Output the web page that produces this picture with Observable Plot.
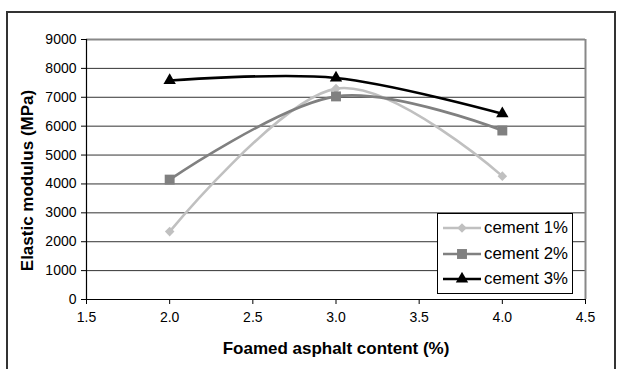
<!DOCTYPE html>
<html>
<head>
<meta charset="utf-8">
<script src="https://cdn.jsdelivr.net/npm/d3@7"></script>
<script src="https://cdn.jsdelivr.net/npm/@observablehq/plot@0.6"></script>
<style>
  html, body { margin: 0; padding: 0; background: #fff; }
  #wrap { position: relative; width: 623px; height: 369px; overflow: hidden; font-family: "Liberation Sans", Arial, sans-serif; }
  #border { position: absolute; left: 6px; top: 11px; width: 610px; height: 400px; border: 2px solid #333; box-sizing: border-box; }
  #chart { position: absolute; left: 0; top: 0; }
  #legend { position: absolute; left: 437px; top: 213px; width: 136px; height: 81px; border: 1px solid #000; background: #fff; box-sizing: border-box; }
  .item { position: absolute; left: 4px; height: 24px; display: flex; align-items: center; font-size: 16.8px; color: #000; white-space: nowrap; }
  .item svg { margin-right: 2px; }
</style>
</head>
<body>
<div id="wrap">
  <div id="border"></div>
  <div id="chart"></div>
  <div id="legend"></div>
</div>
<script>
const xValues = [2.0, 3.0, 4.0];
const seriesNames = ["cement 1%", "cement 2%", "cement 3%"];
const cement1 = [2350, 7300, 4270];
const cement2 = [4150, 7030, 5850];
const cement3 = [7580, 7670, 6430];
const seriesColors = ["#c0c0c0", "#808080", "#000000"];
const seriesSymbols = ["diamond2", "square", "triangle"];
const xTicks = [1.5, 2.0, 2.5, 3.0, 3.5, 4.0, 4.5];
const yTicks = [0, 1000, 2000, 3000, 4000, 5000, 6000, 7000, 8000, 9000];

const allSeries = [cement1, cement2, cement3];
const data = [];
allSeries.forEach((vals, i) => vals.forEach((v, j) => data.push({x: xValues[j], y: v, s: seriesNames[i]})));

const symR = {"diamond2": 4.3, "square": 5.6, "triangle": 4.6};

const marks = [
  Plot.ruleY(yTicks.filter(d => d > 0 && d < 9000), {stroke: "#333", strokeWidth: 1}),
  Plot.ruleY([9000], {stroke: "#888", strokeWidth: 2}),
  Plot.ruleX([4.5], {stroke: "#888", strokeWidth: 2}),
  Plot.axisX({ticks: xTicks, tickFormat: d3.format(".1f"), tickSize: 5, tickPadding: 8, fontSize: 14, label: null, stroke: "#000"}),
  Plot.axisY({ticks: yTicks, tickFormat: d => String(d), tickSize: 5, tickPadding: 5, fontSize: 14, label: null, stroke: "#000"}),
  Plot.ruleX([1.5], {stroke: "#000", strokeWidth: 1.2}),
  Plot.ruleY([0], {stroke: "#000", strokeWidth: 1.2}),
];
seriesNames.forEach((name, i) => {
  const d = data.filter(r => r.s === name);
  marks.push(Plot.line(d, {x: "x", y: "y", stroke: seriesColors[i], strokeWidth: 2.6, curve: "cardinal", tension: 0}));
});
seriesNames.forEach((name, i) => {
  const d = data.filter(r => r.s === name);
  marks.push(Plot.dot(d, {x: "x", y: "y", symbol: () => seriesSymbols[i], fill: seriesColors[i], stroke: "none", r: symR[seriesSymbols[i]]}));
});
marks.push(Plot.text(["Foamed asphalt content (%)"], {frameAnchor: "bottom", dy: 54, text: d => d, fontSize: 17, fontWeight: "bold", fill: "#000"}));
marks.push(Plot.text(["Elastic modulus (MPa)"], {frameAnchor: "left", dx: -59, dy: 11, rotate: -90, textAnchor: "middle", text: d => d, fontSize: 17, fontWeight: "bold", fill: "#000"}));

const chart = Plot.plot({
  width: 623,
  height: 369,
  marginLeft: 86,
  marginRight: 38,
  marginTop: 39,
  marginBottom: 70,
  style: {fontFamily: "Liberation Sans, Arial, sans-serif", color: "#000", background: "transparent"},
  x: {domain: [1.5, 4.5]},
  y: {domain: [0, 9000]},
  symbol: {type: "identity"},
  marks
});
document.getElementById("chart").appendChild(chart);

// Legend
const legend = document.getElementById("legend");
seriesNames.forEach((name, i) => {
  const item = document.createElement("div");
  item.className = "item";
  item.style.top = (2 + i * 25.5) + "px";
  const sw = d3.create("svg").attr("width", 40).attr("height", 14);
  sw.append("line").attr("x1", 1).attr("x2", 39).attr("y1", 7).attr("y2", 7).attr("stroke", seriesColors[i]).attr("stroke-width", 2.6);
  const sym = {"diamond2": d3.symbolDiamond2, "square": d3.symbolSquare, "triangle": d3.symbolTriangle}[seriesSymbols[i]];
  const r = symR[seriesSymbols[i]];
  sw.append("path").attr("transform", "translate(20,7)").attr("d", d3.symbol(sym, r * r * Math.PI)()).attr("fill", seriesColors[i]);
  item.appendChild(sw.node());
  const t = document.createElement("span");
  t.textContent = name;
  item.appendChild(t);
  legend.appendChild(item);
});
</script>
</body>
</html>
